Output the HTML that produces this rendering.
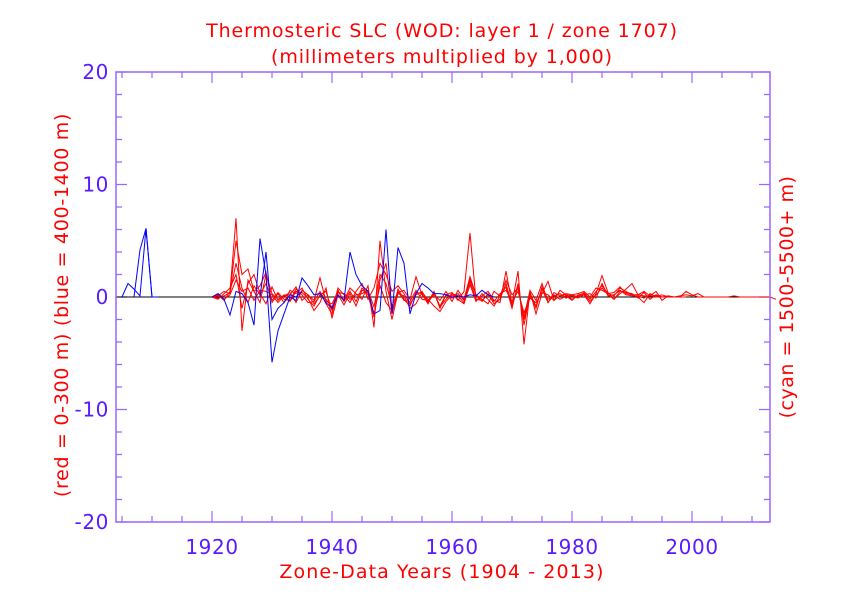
<!DOCTYPE html>
<html><head><meta charset="utf-8"><style>
body{margin:0;background:#fff;}
svg{display:block;font-family:"DejaVu Sans","Liberation Sans",sans-serif;}
</style></head><body>
<svg id="c" width="842" height="595">
<text x="442" y="37" text-anchor="middle" font-size="19" letter-spacing="0.9" fill="#ff0000">Thermosteric SLC (WOD: layer 1 / zone 1707)</text>
<text x="442" y="63" text-anchor="middle" font-size="19" letter-spacing="0.9" fill="#ff0000">(millimeters multiplied by 1,000)</text>
<text x="442" y="578" text-anchor="middle" font-size="19" letter-spacing="1.1" fill="#ff0000">Zone-Data Years (1904 - 2013)</text>
<text transform="translate(68,305) rotate(-90)" text-anchor="middle" font-size="19" letter-spacing="0.7" fill="#ff0000">(red = 0-300 m)  (blue = 400-1400 m)</text>
<text transform="translate(793,297) rotate(-90)" text-anchor="middle" font-size="19" letter-spacing="0.5" fill="#ff0000">(cyan = 1500-5500+ m)</text>
<g id="plot"></g>
</svg>
<script>
const xTicks=[1920,1940,1960,1980,2000];
const yTicks=[-20,-10,0,10,20];
const blueStart1=1905;
const blue1=[0,1.2,0.7,0.1,6.1,0,0];
const blueStart2=1907;
const blue2=[0,4.2,6.1,0,0];
const blueStart3=1920;
const blue3=[0,0.3,-0.2,-1.6,0.5,0.3,-0.5,-2.5,5.2,2,-5.8,-3,-1.5,0,-0.3,1.7,1,0.2,0.3,-0.5,-1,0.2,-0.3,4,2,1,0.5,-1.5,-1.2,6,-1.5,4.4,3,-1.5,0.3,1.2,0.8,0.3,0.3,0.2,0,0.1,0,0.2,0.1,0.6,0.2,0];
const blueStart4=1928;
const blue4=[0,4,-2,-1,-0.5,0.2,0,0.5];
const redStart=1920;
const red1=[0,0.2,-0.3,0.5,7,-3,1.5,0.5,-0.5,2,0.3,-0.2,0.1,0.4,-0.5,0.6,0.2,-0.3,1.7,-0.4,-0.6,0.5,-0.3,0.8,0.3,-0.2,1,-2.7,5,0.5,-2,0.4,0.6,-0.2,1.8,0.2,-0.5,0.3,-0.8,0.2,0.4,-0.3,0.5,5.7,-0.3,0.1,0.5,-0.3,-0.5,2.3,-0.6,2.3,-4.2,0.5,-1.5,0.3,1.4,-0.3,0.6,0.2,-0.2,0.1,0.2,-0.6,0.3,1.9,0.4,-0.2,0.3,0.7,1.2,0.2,0.5,0.1,0.5,-0.3,0.1,0,0.1,0.2,0.1,0.3,0,0,0,0,0,0.1,0,0,0,0,0,0,-0.2];
const red2=[0,0.1,0.5,0.3,5,2,2.5,0.5,1,2.2,-0.5,0.3,-0.5,0.6,0.3,0.8,-0.2,-0.8,0.2,0.5,-1.2,0.8,0.2,-0.5,0.5,1.2,-0.2,0.8,3,2,0.5,1,0.3,-0.6,0.2,0.5,-0.4,0.2,-0.3,0.5,-0.4,0.6,-0.2,1.8,0.2,-0.2,-0.6,0.5,0.1,1.5,0.2,0.8,-1.8,0.6,-0.3,1.2,-0.5,0.4,0.1,0.3,0.2,0.3,0.5,0,0.8,0.6,0.3,0.4,0.9,0.3,0.2,0,-0.5,0.3,0,0.2,0,0,0,0.5,0.2,0,0,0,0];
const red3=[0,-0.2,0.3,0.8,2,-1,1.2,2,0.3,-0.6,0.9,-0.3,0.2,-0.4,0.5,0.4,-0.1,-1.2,-0.5,0.8,-1.9,0.2,-0.7,0.3,-0.8,0.6,0.4,-1.5,1,-0.5,-1.2,0.3,0.1,-1,-0.6,0.4,-0.2,-0.8,-1.3,-0.4,0.2,-0.2,-0.6,1.1,-0.4,0.3,-0.2,-0.8,0.1,0.9,-1,1.2,-2.5,0.3,-0.8,0.7,-0.5,0.2,-0.2,0.1,-0.3,0.2,0.3,-0.4,0.2,0.8,0.2,-0.2,0.5,0.4,0.3,-0.1,0.4,-0.2,0.2,0,0.1,0,0,0];
const red4=[0,0.3,-0.2,0.2,1.5,0.5,0.8,-0.3,0.6,0.5,0.2,-0.5,0.1,0.2,0.9,-0.3,0.2,-0.6,0.1,-0.2,-0.9,0.4,0.3,-0.2,0.2,0.3,0.6,-0.9,2,1.2,-0.8,0.5,-0.3,-0.4,0.6,-0.2,-0.3,0.4,-1,0.2,-0.1,0.3,-0.3,1.4,-0.2,-0.3,0.2,-0.4,0.3,0.6,-0.4,0.5,-1.4,-0.1,-0.5,0.4,0.2,-0.3,0.1,0.2,0.1,-0.1,0.2,0.3,-0.1,1.2,0.1,0.2,0.6,0.2,0.1,0.1,-0.1,0.2,0.1,0,0,0,0,0];
const red5=[0,-0.1,0.1,0.4,3,0.8,-0.5,1,0.2,1.2,-0.3,0.4,-0.2,-0.3,0.7,0.2,-0.5,-0.4,0.5,-0.6,-1.5,0.6,-0.4,0.5,-0.4,0.8,0.2,-1.8,1.5,3,-1.5,0.7,-0.2,-0.8,0.4,0.3,-0.6,0.5,-0.9,-0.2,0.3,0.1,-0.5,1.6,0.2,-0.4,0.3,-0.6,-0.2,1.2,-0.8,0.9,-2,0.2,-1,0.9,-0.2,0.1,0.3,-0.1,0.2,0,0.4,-0.2,0.5,1,0.3,0.1,0.8,0.5,0.2,0.2,0.1,0.1,0,0,0,0];
const X0=116,X1=770,Y0=72,Y1=522,XMIN=1904,XMAX=2013,YMIN=-20,YMAX=20;
const sx=v=>X0+(v-XMIN)/(XMAX-XMIN)*(X1-X0);
const sy=v=>Y1-(v-YMIN)/(YMAX-YMIN)*(Y1-Y0);
const NS="http://www.w3.org/2000/svg";
const g=document.getElementById('plot');
function mk(t,a){const e=document.createElementNS(NS,t);for(const k in a)e.setAttribute(k,a[k]);g.appendChild(e);return e;}
const ax="#9966ff";
let d="";
for(let y=YMIN;y<=YMAX;y+=2){const L=(y%10===0)?11:6;d+=`M${X0} ${sy(y)}h${L}M${X1} ${sy(y)}h${-L}`;}
for(let x=1905;x<=XMAX;x+=5){const L=(x%20===0)?11:6;d+=`M${sx(x)} ${Y1}v${-L}M${sx(x)} ${Y0}v${L}`;}
const ticks=mk('path',{d:d,stroke:ax,'stroke-width':1.2,fill:'none'});


const zl=mk('line',{x1:X0,x2:X1,y1:sy(0),y2:sy(0),stroke:'#000','stroke-width':1});


function series(arr,start,color,name){
  const p=arr.map((v,i)=>`${i?'L':'M'}${sx(start+i).toFixed(1)} ${sy(v).toFixed(1)}`).join('');
  const e=mk('path',{d:p,stroke:color,'stroke-width':1,fill:'none'});
  
  
}
series(red1,redStart,'#ff0000','red-series-1');
series(red2,redStart,'#ff0000','red-series-2');
series(red3,redStart,'#ff0000','red-series-3');
series(red4,redStart,'#ff0000','red-series-4');
series(red5,redStart,'#ff0000','red-series-5');
series(blue1,blueStart1,'#0000ff','blue-series-1');
series(blue2,blueStart2,'#0000ff','blue-series-2');
series(blue3,blueStart3,'#0000ff','blue-series-3');
series(blue4,blueStart4,'#0000ff','blue-series-4');
const fr=mk('rect',{x:X0,y:Y0,width:X1-X0,height:Y1-Y0,fill:'none',stroke:ax,'stroke-width':1.5});


yTicks.forEach(v=>{const t=mk('text',{x:109,y:sy(v)+7,'text-anchor':'end','font-size':20,'letter-spacing':0.6,fill:'#5a1aff'});t.textContent=v;

});
xTicks.forEach(v=>{const t=mk('text',{x:sx(v),y:554,'text-anchor':'middle','font-size':20,'letter-spacing':0.6,fill:'#5a1aff'});t.textContent=v;

});
</script>
</body></html>
